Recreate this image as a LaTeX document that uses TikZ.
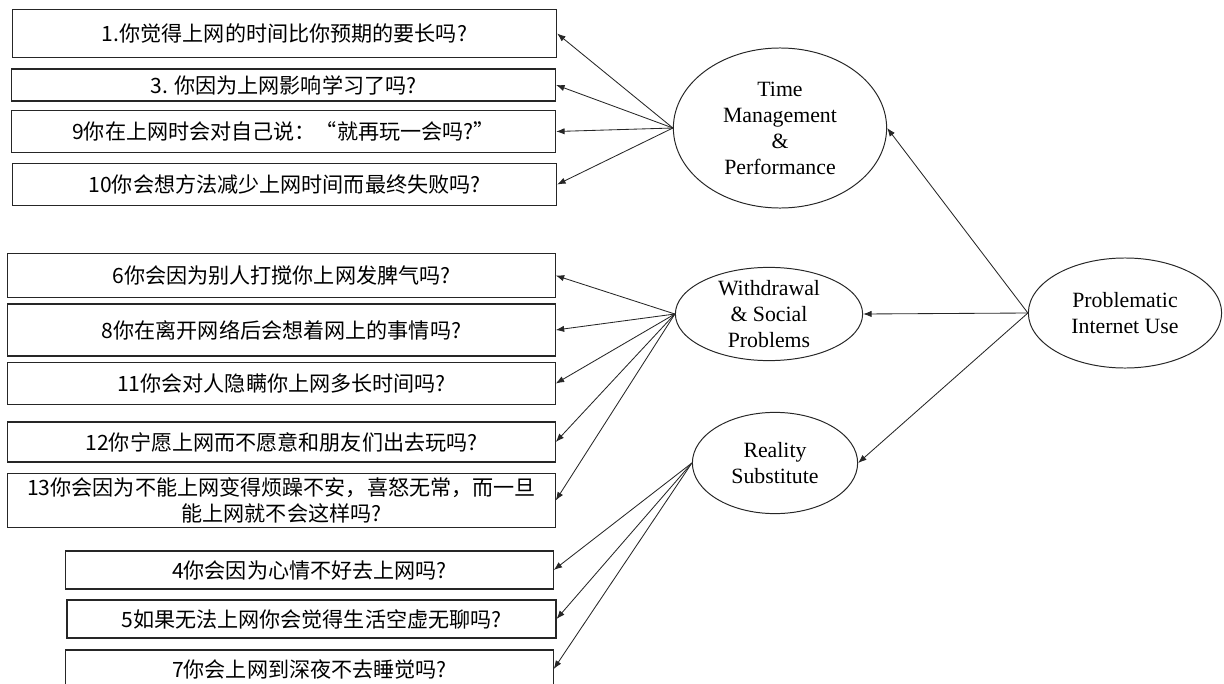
\documentclass[tikz,border=0pt]{standalone}
\usepackage{fontspec}
\setmainfont{Liberation Serif}
\newfontfamily\cjk{Noto Sans CJK SC}
\usetikzlibrary{arrows.meta,shapes.geometric}
\begin{document}
\begin{tikzpicture}
  [x=0.025cm, y=-0.025cm,
  item/.style={
    draw=black!85,
    rectangle,
    line width=0.8pt,
    inner sep=0pt,
    align=center,
    font=\cjk\fontsize{15}{18}\selectfont,
    minimum width=13.6cm},
  latent/.style={
    draw=black!85,
    ellipse,
    line width=0.7pt,
    inner sep=0pt},
  factor/.style={
    align=center,
    inner sep=0pt,
    font=\fontsize{15.5}{18.5}\selectfont},
  loading/.style={
    draw=black!85,
    line width=0.6pt,
    -{Latex[length=6pt,width=4.5pt]}}]

  \useasboundingbox (0,0) rectangle (1224,684);
  \clip (0,0) rectangle (1224,684);

  \node [item, minimum height=1.18cm] at (284.5,33.5) (q1) {1.你觉得上网的时间比你预期的要长吗?};
  \node [item, minimum height=0.8cm] at (283.5,85) (q3) {3. 你因为上网影响学习了吗?};
  \node [item, minimum height=1.03cm] at (283.5,131.5) (q9) {9你在上网时会对自己说：“就再玩一会吗?”};
  \node [item, minimum height=1.03cm] at (284.5,184.5) (q10) {10你会想方法减少上网时间而最终失败吗?};

  \node [item, minimum width=13.68cm, minimum height=1.08cm] at (281.5,275.5) (q6) {6你会因为别人打搅你上网发脾气吗?};
  \node [item, minimum width=13.68cm, minimum height=1.3cm] at (281.5,330) (q8) {8你在离开网络后会想着网上的事情吗?};
  \node [item, minimum width=13.68cm, minimum height=1.03cm] at (281.5,383.5) (q11) {11你会对人隐瞒你上网多长时间吗?};
  \node [item, minimum width=13.68cm, minimum height=1cm] at (281.5,442) (q12) {12你宁愿上网而不愿意和朋友们出去玩吗?};
  \node [item, minimum width=13.68cm, minimum height=1.33cm] at (281.5,500.5) (q13) {13你会因为不能上网变得烦躁不安，喜怒无常，而一旦\\能上网就不会这样吗?};

  \node [item, minimum width=12.18cm, minimum height=0.95cm] at (309.5,570) (q4) {4你会因为心情不好去上网吗?};
  \node [item, minimum width=12.22cm, minimum height=0.95cm] at (311.5,619) (q5) {5如果无法上网你会觉得生活空虚无聊吗?};
  \node [item, minimum width=12.18cm, minimum height=0.95cm] at (309.5,669) (q7) {7你会上网到深夜不去睡觉吗?};

  \node [latent, minimum width=5.33cm, minimum height=4cm] at (780,128) (time) {};
  \node [factor] at (time.center) {Time\\Management\\\&\\Performance};
  \node [latent, minimum width=4.68cm, minimum height=2.33cm] at (769,314) (withdrawal) {};
  \node [factor] at (withdrawal.center) {Withdrawal\\\& Social\\Problems};
  \node [latent, minimum width=4.13cm, minimum height=2.53cm] at (775,463) (reality) {};
  \node [factor] at (reality.center) {Reality\\Substitute};
  \node [latent, minimum width=4.83cm, minimum height=2.75cm] at (1125,313) (piu) {};
  \node [factor] at (piu.center) {Problematic\\Internet Use};

  \draw [loading] (piu.west) -- (time.east);
  \draw [loading] (piu.west) -- (withdrawal.east);
  \draw [loading] (piu.west) -- (reality.east);

  \foreach \q in {q1,q3,q9,q10}
    \draw [loading] (time.west) -- (\q.east);
  \foreach \q in {q6,q8,q11,q12,q13}
    \draw [loading] (withdrawal.west) -- (\q.east);
  \foreach \q in {q4,q5,q7}
    \draw [loading] (reality.west) -- (\q.east);
\end{tikzpicture}
\end{document}
